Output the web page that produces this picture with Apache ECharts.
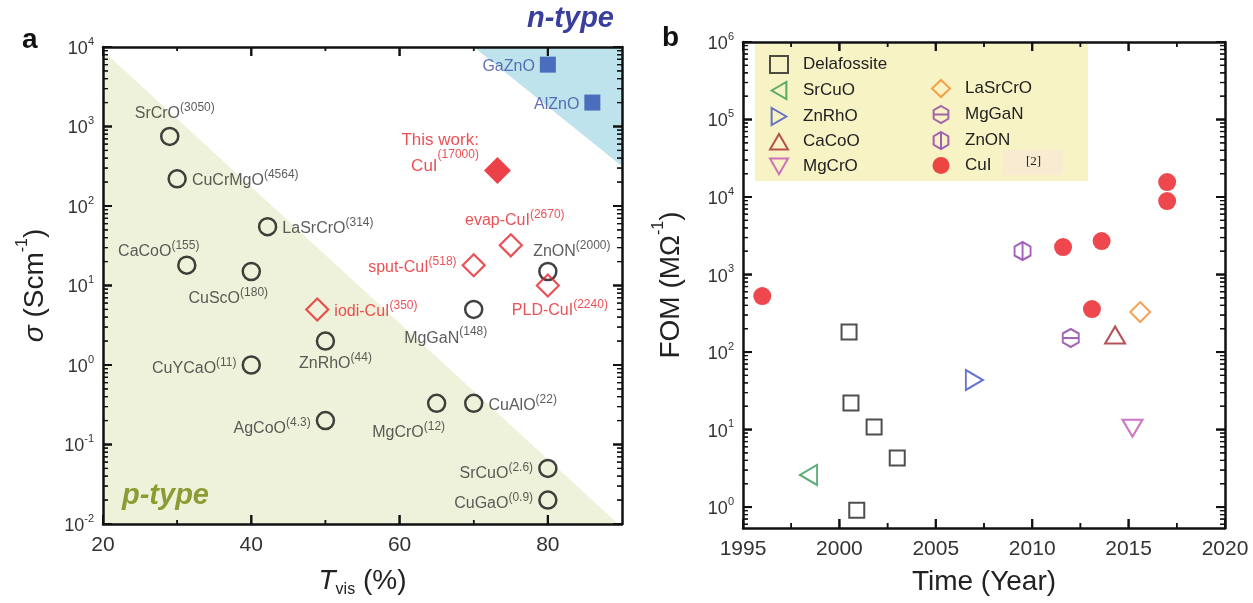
<!DOCTYPE html>
<html><head><meta charset="utf-8">
<script src="https://cdn.jsdelivr.net/npm/echarts@6/dist/echarts.min.js"></script>
<style>html,body{margin:0;padding:0;background:#fff}#c{width:1253px;height:603px}</style>
</head><body><div id="c"></div>
<script>
// ---------- Panel a data ----------
const aNames = ['SrCrO','CuCrMgO','LaSrCrO','CaCoO','CuScO','CuYCaO','AgCoO','ZnRhO','MgGaN','MgCrO','CuAlO','ZnON','SrCuO','CuGaO'];
const aT     = [29, 30, 42.2, 31.3, 40, 40, 50, 50, 70, 65, 70, 80, 80, 80];
const aSigma = [750, 220, 55, 18, 15, 1, 0.2, 2, 5, 0.33, 0.33, 15, 0.05, 0.02];
const aFom   = ['3050','4564','314','155','180','11','4.3','44','148','12','22','2000','2.6','0.9'];

const cuiNames = ['iodi-CuI','sput-CuI','evap-CuI','PLD-CuI'];
const cuiT     = [48.9, 70, 75, 80];
const cuiSigma = [5, 18, 32, 10];
const cuiFom   = ['350','518','2670','2240'];

const workNames = ['CuI'];
const workT     = [73.2];
const workSigma = [280];
const workFom   = ['17000'];

const nNames = ['GaZnO','AlZnO'];
const nT     = [80, 86];
const nSigma = [6000, 2000];

const pRegionT = [20, 89.5];
const pRegionSigma = [9000, 0.01];
const nRegionT = [70, 90];
const nRegionSigma = [10000, 316];

const aXLabels = [20, 40, 60, 80];
const aXMinor  = [30, 50, 70];
const aYDecades = [0.01, 0.1, 1, 10, 100, 1000, 10000];

// ---------- Panel b data ----------
const delafYear = [2000.5, 2000.6, 2001.8, 2003.0, 2000.9];
const delafFom  = [181, 22, 10.8, 4.3, 0.91];
const srcuoYear = [1998.4];
const srcuoFom  = [2.6];
const znrhoYear = [2007.0];
const znrhoFom  = [43.5];
const cacooYear = [2014.3];
const cacooFom  = [166];
const mgcroYear = [2015.2];
const mgcroFom  = [10.4];
const lasrcroYear = [2015.6];
const lasrcroFom  = [328];
const mgganYear = [2012.0];
const mgganFom  = [152];
const znonYear  = [2009.5];
const znonFom   = [2010];
const cuiYear   = [1996.0, 2011.6, 2013.6, 2013.1, 2017.0, 2017.0];
const cuiFomB   = [527, 2265, 2700, 359, 15600, 8870];

const bXLabels = [1995, 2000, 2005, 2010, 2015, 2020];
const bXMinor  = [1997.5, 2002.5, 2007.5, 2012.5, 2017.5];
const bYDecades = [1, 10, 100, 1000, 10000, 100000, 1000000];

// ---------- styles ----------
const FONT = '"Liberation Sans", Arial, Helvetica, sans-serif';
const AX = '#111';
const TXT = '#333';
const RED = '#e5262d';
const BLUE = '#3d4ea3';

const aXR = [20, 90], aYR = [0.01, 10000];
const bXR = [1995, 2020], bYR = [0.537, 1000000];

function minorLog(decs, lo, hi) {
  const out = [];
  [decs[0] / 10].concat(decs).forEach(d => {
    for (let m = 2; m <= 9; m++) {
      const v = +(m * d).toPrecision(6);
      if (v > lo && v < hi) out.push(v);
    }
  });
  return out;
}
const aYMinor = minorLog(aYDecades, aYR[0], aYR[1]);
const bYMinor = minorLog(bYDecades, bYR[0], bYR[1]);

const powRich = {
  b: {fontSize: 18, color: TXT, fontFamily: FONT, lineHeight: 22, verticalAlign: 'bottom'},
  s: {fontSize: 11, color: TXT, fontFamily: FONT, lineHeight: 11, verticalAlign: 'top'}
};
function powLabel(v) { const e = Math.round(Math.log10(v)); return '{b|10}{s|' + e + '}'; }

function xAx(grid, pos, r, labels) {
  const o = {type: 'value', gridIndex: grid, position: pos, min: r[0], max: r[1],
    axisLine: {show: true, onZero: false, lineStyle: {color: AX, width: 2.5}},
    axisTick: {show: false}, axisLabel: {show: false}, splitLine: {show: false}};
  if (labels) o.axisLabel = {show: true, customValues: labels, formatter: v => String(v),
    fontSize: 21, color: TXT, fontFamily: FONT, margin: 11};
  return o;
}
function yAx(grid, pos, r, labels) {
  const o = {type: 'log', logBase: 10, gridIndex: grid, position: pos, min: r[0], max: r[1],
    axisLine: {show: true, onZero: false, lineStyle: {color: AX, width: 2.5}},
    axisTick: {show: false}, axisLabel: {show: false}, splitLine: {show: false}, minorTick: {show: false}};
  if (labels) o.axisLabel = {show: true, customValues: labels, formatter: powLabel, rich: powRich, margin: 9};
  return o;
}

const xAxes = [xAx(0, 'bottom', aXR, aXLabels), xAx(0, 'top', aXR, null),
               xAx(1, 'bottom', bXR, bXLabels), xAx(1, 'top', bXR, null)];
const yAxes = [yAx(0, 'left', aYR, aYDecades), yAx(0, 'right', aYR, null),
               yAx(1, 'left', bYR, bYDecades), yAx(1, 'right', bYR, null)];

Object.assign(xAxes[0], {name: '{i|T}{sub|vis} {n|(%)}', nameLocation: 'middle', nameGap: 40,
  nameTextStyle: {fontSize: 28, fontFamily: FONT, color: '#222', rich: {
    i: {fontSize: 28, fontStyle: 'italic', fontFamily: FONT, color: '#222', lineHeight: 34, verticalAlign: 'middle'},
    n: {fontSize: 28, fontFamily: FONT, color: '#222', lineHeight: 34, verticalAlign: 'middle'},
    sub: {fontSize: 16, fontFamily: FONT, color: '#222', lineHeight: 16, verticalAlign: 'bottom'}}}});
Object.assign(xAxes[2], {name: 'Time (Year)', nameLocation: 'middle', nameGap: 40,
  nameTextStyle: {fontSize: 28, fontFamily: FONT, color: '#222'}});
const nameRich = {
  i: {fontSize: 28, fontStyle: 'italic', fontFamily: FONT, color: '#222', lineHeight: 34, verticalAlign: 'bottom'},
  n: {fontSize: 28, fontFamily: FONT, color: '#222', lineHeight: 34, verticalAlign: 'bottom'},
  s: {fontSize: 16, fontFamily: FONT, color: '#222', lineHeight: 16, verticalAlign: 'top'}
};
Object.assign(yAxes[0], {name: '{i|σ} {n|(Scm}{s|-1}{n|)}', nameLocation: 'middle', nameGap: 54, nameRotate: 90,
  nameTextStyle: {fontSize: 28, fontFamily: FONT, color: '#222', rich: nameRich}});
Object.assign(yAxes[2], {name: '{n|FOM (MΩ}{s|-1}{n|)}', nameLocation: 'middle', nameGap: 58, nameRotate: 90,
  nameTextStyle: {fontSize: 28, fontFamily: FONT, color: '#222', rich: nameRich}});

// inward ticks on all four sides, placed through the axes' own scales (own canvas layer)
function tickSeries(xi, yi, values, dir, len, w, xr, yr) {
  return {type: 'custom', xAxisIndex: xi, yAxisIndex: yi, silent: true, zlevel: 1, z: 10, clip: false,
    data: values.map(v => dir === 'y' ? [xr[0], v] : [v, yr[0]]),
    renderItem: (params, api) => {
      const st = {stroke: AX, lineWidth: w};
      let l1, l2;
      if (dir === 'y') {
        const v = api.value(1);
        const a = api.coord([xr[0], v]), b = api.coord([xr[1], v]);
        l1 = {x1: a[0], y1: a[1], x2: a[0] + len, y2: a[1]};
        l2 = {x1: b[0], y1: b[1], x2: b[0] - len, y2: b[1]};
      } else {
        const v = api.value(0);
        const a = api.coord([v, yr[0]]), b = api.coord([v, yr[1]]);
        l1 = {x1: a[0], y1: a[1], x2: a[0], y2: a[1] - len};
        l2 = {x1: b[0], y1: b[1], x2: b[0], y2: b[1] + len};
      }
      return {type: 'group', children: [
        {type: 'line', shape: l1, style: st}, {type: 'line', shape: l1, style: st},
        {type: 'line', shape: l2, style: st}, {type: 'line', shape: l2, style: st}]};
    }};
}
const tickSer = [
  tickSeries(0, 0, aXLabels, 'x', 9, 2, aXR, aYR),
  tickSeries(0, 0, aXMinor, 'x', 4, 1.5, aXR, aYR),
  tickSeries(0, 0, aYDecades, 'y', 9, 2, aXR, aYR),
  tickSeries(0, 0, aYMinor, 'y', 5, 1.2, aXR, aYR),
  tickSeries(2, 2, bXLabels, 'x', 9, 2, bXR, bYR),
  tickSeries(2, 2, bXMinor, 'x', 5, 1.5, bXR, bYR),
  tickSeries(2, 2, bYDecades, 'y', 9, 2, bXR, bYR),
  tickSeries(2, 2, bYMinor, 'y', 5, 1.2, bXR, bYR)
];

// label placement (style, not data)
const labelPlace = {
  'SrCrO': ['top', [5, 0]], 'CuCrMgO': ['right', [0, 0]], 'LaSrCrO': ['right', [0, 0]],
  'CaCoO': ['top', [-28, 9]], 'CuScO': ['bottom', [-23, 0]], 'CuYCaO': ['left', [0, 2]],
  'AgCoO': ['left', [0, 6]], 'ZnRhO': ['bottom', [10, -4]], 'MgGaN': ['bottom', [-28, 2]],
  'MgCrO': ['bottom', [-28, 3]], 'CuAlO': ['right', [0, 0]], 'ZnON': ['top', [24, 3]],
  'SrCuO': ['left', [0, 3]], 'CuGaO': ['left', [0, 2]],
  'iodi-CuI': ['right', [0, 0]], 'sput-CuI': ['left', [0, 0]], 'evap-CuI': ['top', [4, 0]],
  'PLD-CuI': ['bottom', [12, -4]], 'GaZnO': ['left', [0, 2]], 'AlZnO': ['left', [0, 2]],
  'CuI': ['left', [0, -22]]
};
function richFor(c) {
  return {
    b: {fontSize: 16, color: c, fontFamily: FONT, lineHeight: 20, verticalAlign: 'bottom'},
    s: {fontSize: 12, color: c, fontFamily: FONT, lineHeight: 12, verticalAlign: 'top'},
    w: {fontSize: 17, color: c, fontFamily: FONT, lineHeight: 26, verticalAlign: 'bottom'},
    ws: {fontSize: 12, color: c, fontFamily: FONT, lineHeight: 12, verticalAlign: 'top'}
  };
}
function pts(names, xs, ys) {
  return names.map((n, i) => {
    const p = labelPlace[n] || ['right', [0, 0]];
    return {name: n, value: [xs[i], ys[i]], label: {position: p[0], offset: p[1]}};
  });
}

const seriesA = [
  {type: 'line', name: 'p-region', xAxisIndex: 0, yAxisIndex: 0, z: -1, silent: true, symbol: 'none',
   data: pRegionT.map((t, i) => [t, pRegionSigma[i]]), lineStyle: {width: 0},
   areaStyle: {color: '#eff2da', opacity: 1, origin: 'start'}},
  {type: 'line', name: 'n-region', xAxisIndex: 0, yAxisIndex: 0, z: -1, silent: true, symbol: 'none',
   data: nRegionT.map((t, i) => [t, nRegionSigma[i]]), lineStyle: {width: 0},
   areaStyle: {color: '#bfe3ec', opacity: 1, origin: 'end'}},
  {type: 'scatter', name: 'a-oxides', xAxisIndex: 0, yAxisIndex: 0, symbol: 'circle', symbolSize: 17,
   itemStyle: {color: 'rgba(0,0,0,0)', borderColor: '#111', borderWidth: 2.5},
   data: pts(aNames, aT, aSigma),
   label: {show: true, rich: richFor(TXT), formatter: p => '{b|' + p.name + '}{s|(' + aFom[p.dataIndex] + ')}'}},
  {type: 'scatter', name: 'a-cui', xAxisIndex: 0, yAxisIndex: 0, symbol: 'diamond', symbolSize: 22,
   itemStyle: {color: 'rgba(0,0,0,0)', borderColor: RED, borderWidth: 2.2},
   data: pts(cuiNames, cuiT, cuiSigma),
   label: {show: true, rich: richFor(RED), formatter: p => '{b|' + p.name + '}{s|(' + cuiFom[p.dataIndex] + ')}'}},
  {type: 'scatter', name: 'a-work', xAxisIndex: 0, yAxisIndex: 0, symbol: 'diamond', symbolSize: 27,
   itemStyle: {color: '#e8121c'},
   data: pts(workNames, workT, workSigma),
   label: {show: true, rich: richFor(RED), formatter: p => '{w|This work:}\n{w|' + p.name + '}{ws|(' + workFom[p.dataIndex] + ')}'}},
  {type: 'scatter', name: 'a-ntype', xAxisIndex: 0, yAxisIndex: 0, symbol: 'rect', symbolSize: 16,
   itemStyle: {color: '#2d4fb3'},
   data: pts(nNames, nT, nSigma),
   label: {show: true, color: BLUE, fontSize: 16, fontFamily: FONT, formatter: p => p.name}}
];

const bStyle = {
  'Delafossite': {symbol: 'rect', size: 15, color: '#222', fill: false},
  'SrCuO': {symbol: 'path://M0,5 L8.66,0 L8.66,10 Z', size: [17, 20], color: '#2f9a50', fill: false},
  'ZnRhO': {symbol: 'path://M8.66,5 L0,0 L0,10 Z', size: [17, 20], color: '#3f52c2', fill: false},
  'CaCoO': {symbol: 'path://M5,0 L10,8.66 L0,8.66 Z', size: [20, 17], color: '#a3282e', fill: false},
  'MgCrO': {symbol: 'path://M0,0 L10,0 L5,8.66 Z', size: [20, 17], color: '#c252b8', fill: false},
  'LaSrCrO': {symbol: 'diamond', size: 20, color: '#f08c2a', fill: false},
  'MgGaN': {symbol: 'path://M8.66,0 L17.32,5 L17.32,15 L8.66,20 L0,15 L0,5 Z M0,10 L17.32,10', size: [16, 18], color: '#8c3fa0', fill: false},
  'ZnON': {symbol: 'path://M8.66,0 L17.32,5 L17.32,15 L8.66,20 L0,15 L0,5 Z M8.66,0 L8.66,20', size: [16, 18], color: '#8a3aac', fill: false},
  'CuI': {symbol: 'circle', size: 18, color: '#ea1a22', fill: true}
};
const bData = [
  ['Delafossite', delafYear, delafFom], ['SrCuO', srcuoYear, srcuoFom], ['ZnRhO', znrhoYear, znrhoFom],
  ['CaCoO', cacooYear, cacooFom], ['MgCrO', mgcroYear, mgcroFom], ['LaSrCrO', lasrcroYear, lasrcroFom],
  ['MgGaN', mgganYear, mgganFom], ['ZnON', znonYear, znonFom], ['CuI', cuiYear, cuiFomB]
];
const seriesB = bData.map(([n, xs, ys]) => {
  const s = bStyle[n];
  return {type: 'scatter', name: n, xAxisIndex: 2, yAxisIndex: 2, symbol: s.symbol, symbolSize: s.size,
    itemStyle: s.fill ? {color: s.color} : {color: 'rgba(0,0,0,0)', borderColor: s.color, borderWidth: 2},
    data: xs.map((x, i) => [x, ys[i]])};
});

const legendCommon = {orient: 'vertical', padding: 0, itemWidth: 18, itemHeight: 17, itemGap: 7, selectedMode: false,
  itemStyle: {borderWidth: 2},
  textStyle: {fontSize: 17, color: '#222', fontFamily: FONT, padding: [0, 0, 0, 10]}};

const option = {
  animation: false,
  backgroundColor: '#fff',
  grid: [
    {left: 103, top: 47, width: 519, height: 481},
    {left: 743, top: 42, width: 482, height: 486}
  ],
  xAxis: xAxes,
  yAxis: yAxes,
  legend: [
    Object.assign({}, legendCommon, {data: ['Delafossite', 'SrCuO', 'ZnRhO', 'CaCoO', 'MgCrO'], left: 769, top: 55}),
    Object.assign({}, legendCommon, {data: ['LaSrCrO', 'MgGaN', 'ZnON', 'CuI'], left: 931, top: 79})
  ],
  graphic: {elements: [
    {type: 'rect', z: -10, shape: {x: 755, y: 44, width: 333, height: 137}, style: {fill: '#f7f3c4'}},
    {type: 'rect', z: -9, shape: {x: 1003, y: 150, width: 60, height: 25}, style: {fill: '#f9ebd2'}},
    {type: 'text', left: 1026, top: 155, style: {text: '[2]', font: '13px "Liberation Serif", "DejaVu Serif", serif', fill: '#222'}},
    {type: 'text', left: 22, top: 26, style: {text: 'a', font: 'bold 28px ' + FONT, fill: '#111'}},
    {type: 'text', left: 662, top: 24, style: {text: 'b', font: 'bold 28px ' + FONT, fill: '#111'}},
    {type: 'text', left: 527, top: 4, style: {text: 'n-type', font: 'italic bold 29px ' + FONT, fill: '#383f9c'}},
    {type: 'text', left: 122, top: 481, style: {text: 'p-type', font: 'italic bold 29px ' + FONT, fill: '#8d9b33'}}
  ]},
  series: seriesA.concat(seriesB, tickSer)
};

const chart = echarts.init(document.getElementById('c'), null, {renderer: 'canvas'});
chart.setOption(option);
</script>
</body></html>
